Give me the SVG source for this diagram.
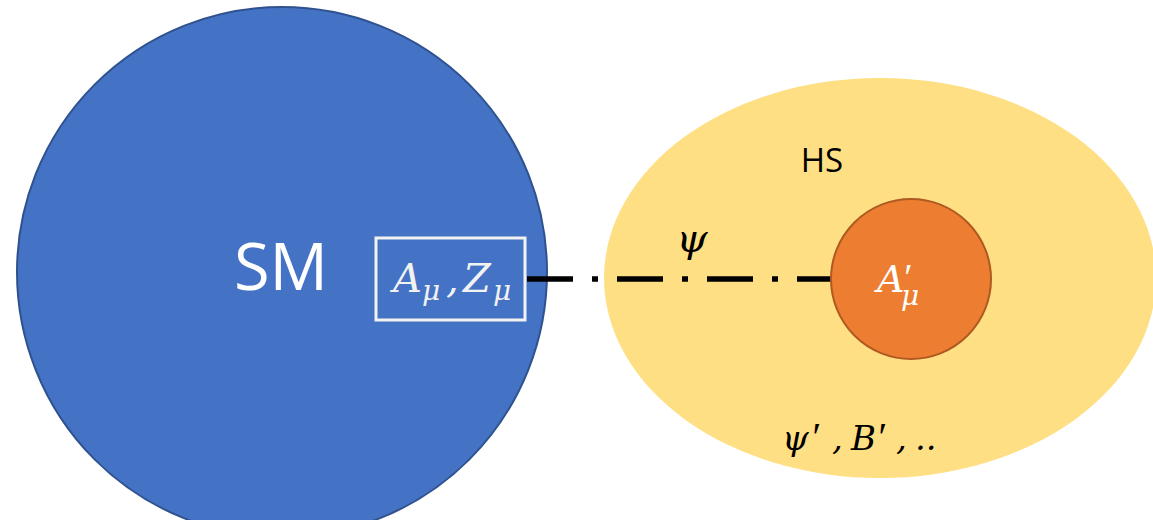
<svg xmlns="http://www.w3.org/2000/svg" width="1153" height="520" viewBox="0 0 1153 520">
<style>
.math{font-family:"DejaVu Serif","Liberation Serif",serif;font-style:italic}
.prime{font-family:"Liberation Serif","DejaVu Serif",serif;font-style:italic}
.sans{font-family:"Open Sans","Liberation Sans",sans-serif}
</style>
<rect width="1153" height="520" fill="#ffffff"/>
<g id="hs">
<ellipse cx="880" cy="278" rx="276" ry="200" fill="#FFDF83"/>
<text class="sans" x="822" y="172" font-size="33" text-anchor="middle" fill="#000">HS</text>
<text class="math" y="450" font-size="34" fill="#000"><tspan x="782">ψ</tspan><tspan class="prime" x="810" font-size="40">′</tspan><tspan x="832">,</tspan><tspan x="851">B</tspan><tspan class="prime" x="876" font-size="40">′</tspan><tspan x="896">,</tspan><tspan x="915">..</tspan></text>
</g>
<g id="sm">
<circle cx="282" cy="272" r="265" fill="#4472C4" stroke="#2F528F" stroke-width="2"/>
<text class="sans" x="281" y="290" font-size="65" text-anchor="middle" fill="#fff">SM</text>
</g>
<g id="gauge">
<rect x="376" y="238" width="149" height="82" fill="none" stroke="#F2F2F2" stroke-width="3"/>
<text class="math" font-size="40" fill="#F2F2F2"><tspan x="393" y="292">A</tspan><tspan x="422" y="300" font-size="28">μ</tspan><tspan x="446" y="292">,</tspan><tspan x="463" y="292">Z</tspan><tspan x="493" y="300" font-size="28">μ</tspan></text>
</g>
<g id="connectors">
<line x1="527" y1="279" x2="831" y2="279" stroke="#000" stroke-width="5.5" stroke-dasharray="46 19 6 19"/>
<text class="math" x="692" y="252" font-size="40" text-anchor="middle" fill="#000">ψ</text>
</g>
<g id="darkphoton">
<circle cx="911" cy="279" r="80" fill="#ED7D31" stroke="#AE5A21" stroke-width="2"/>
<text class="math" font-size="38" fill="#fff"><tspan x="877" y="292">A</tspan><tspan class="prime" x="902" y="290">′</tspan><tspan x="901" y="305" font-size="28">μ</tspan></text>
</g>
</svg>
